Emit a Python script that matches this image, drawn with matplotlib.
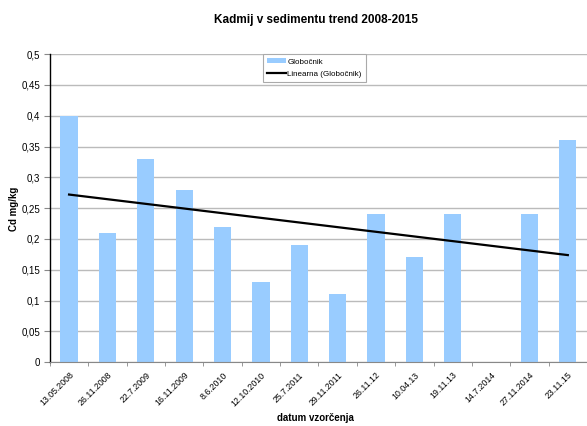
import numpy as np
import matplotlib
matplotlib.use("Agg")
import matplotlib.pyplot as plt
from matplotlib.patches import Patch
from matplotlib.lines import Line2D
from matplotlib.ticker import FuncFormatter, MultipleLocator

plt.rcParams['font.family'] = ['Liberation Sans', 'DejaVu Sans']

dates = ["13.05.2008", "26.11.2008", "22.7.2009", "16.11.2009", "8.6.2010",
         "12.10.2010", "25.7.2011", "29.11.2011", "26.11.12", "10.04.13",
         "19.11.13", "14.7.2014", "27.11.2014", "23.11.15"]
cd_values = [0.40, 0.21, 0.33, 0.28, 0.22, 0.13, 0.19, 0.11, 0.24, 0.17,
             0.24, 0.0, 0.24, 0.36]

fig = plt.figure(figsize=(5.87, 4.26), dpi=100)
ax = fig.add_axes([0.085, 0.150, 0.915, 0.723])

x = np.arange(len(dates))
ax.bar(x, cd_values, width=0.45, color="#99CCFF", zorder=2)

# linear trend across the samples (positions 1..n)
xi = x + 1
slope, intercept = np.polyfit(xi, cd_values, 1)
ax.plot(x, slope * xi + intercept, color="black", lw=1.6, zorder=3)

ax.set_xlim(-0.5, len(dates) - 0.5)
ax.set_ylim(0, 0.5)
ax.yaxis.set_major_locator(MultipleLocator(0.05))
ax.yaxis.set_major_formatter(FuncFormatter(
    lambda v, p: f"{v:.2f}".rstrip("0").rstrip(".").replace(".", ",") if v != 0 else "0"))
ax.grid(axis="y", color="#bbbbbb", lw=1.0, zorder=0)

ax.set_xticks(x)
ax.set_xticklabels(dates, rotation=45, ha="right", rotation_mode="anchor", fontsize=6.3)
ax.set_xticks(np.arange(-0.5, len(dates), 1.0), minor=True)
ax.tick_params(axis="x", which="major", length=0, pad=6)
ax.tick_params(axis="x", which="minor", length=3, color="#888888")
ax.tick_params(axis="y", labelsize=7, length=4, color="#888888", pad=3)

for s in ["top", "right"]:
    ax.spines[s].set_visible(False)
ax.spines["left"].set_color("black")
ax.spines["left"].set_linewidth(1.0)
ax.spines["bottom"].set_color("#888888")

fig.text(0.024, 0.51, "Cd mg/kg", rotation=90, ha="center", va="center",
         fontsize=7, fontweight="bold")
fig.text(0.538, 0.018, "datum vzorčenja", ha="center", va="center",
         fontsize=7, fontweight="bold")
fig.text(0.538, 0.953, "Kadmij v sedimentu trend 2008-2015", ha="center", va="center",
         fontsize=8.5, fontweight="bold")

handles = [Patch(facecolor="#99CCFF", edgecolor="none", label="Globočnik"),
           Line2D([], [], color="black", lw=1.6, label="Linearna (Globočnik)")]
leg = ax.legend(handles=handles, loc="upper left", bbox_to_anchor=(0.397, 1.0),
                fontsize=5.8, frameon=True, fancybox=False, framealpha=1,
                edgecolor="#aaaaaa", handlelength=2.4, handleheight=0.6,
                handletextpad=0.1, borderpad=0.5, labelspacing=0.6, borderaxespad=0)
leg.get_frame().set_linewidth(0.8)

fig.savefig("out.png", dpi=100)
